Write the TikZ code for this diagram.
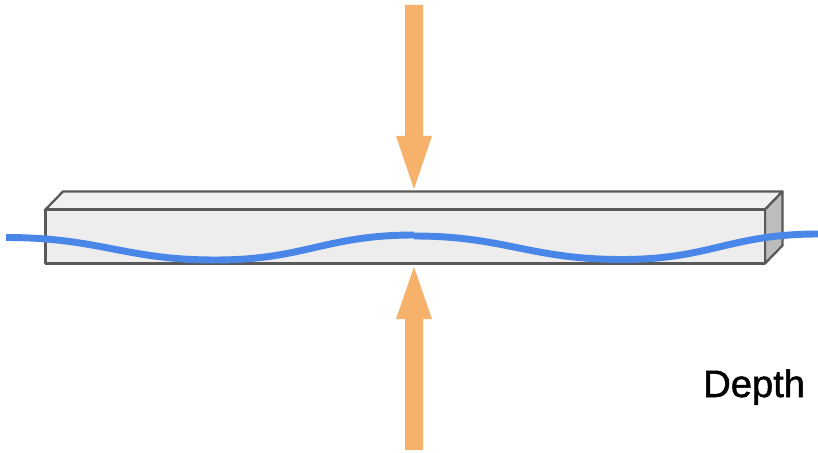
\documentclass[tikz,border=0pt]{standalone}
\usepackage{fontspec}
\setmainfont{Liberation Sans}
\newfontfamily\depthfont[FakeBold=1.3]{Liberation Sans}
\definecolor{edgegray}{HTML}{595959}
\definecolor{frontgray}{HTML}{EDEDED}
\definecolor{topgray}{HTML}{F1F1F1}
\definecolor{sidegray}{HTML}{BDBDBD}
\definecolor{arroworange}{HTML}{F6B26B}
\definecolor{waveblue}{HTML}{4A86E8}
\tikzset{
  face/.style={draw=edgegray,line width=1.7pt,line join=round},
  pressure/.style={fill=arroworange,draw=none},
  wave/.style={draw=waveblue,line width=5.2pt}
}
\begin{document}
\begin{tikzpicture}[x=0.75pt,y=-0.75pt]
\useasboundingbox (0,0) rectangle (818,453);
\fill[white] (0,0) rectangle (818,453);
% beam
\filldraw[face,fill=topgray] (45.5,209.5) -- (63,191.5) -- (782.5,191.5) -- (765,209.5) -- cycle;
\filldraw[face,fill=sidegray] (765,209.5) -- (782.5,191.5) -- (782.5,245.5) -- (765,263.5) -- cycle;
\filldraw[face,fill=frontgray] (45.5,209.5) rectangle (765,263.5);
% arrows
\fill[pressure] (405,5) -- (423,5) -- (423,136) -- (432,136) -- (414,189) -- (396,136) -- (405,136) -- cycle;
\fill[pressure] (405,450) -- (423,450) -- (423,319) -- (432,319) -- (414,267) -- (396,319) -- (405,319) -- cycle;
% wave
\draw[wave] (6,237.5) .. controls (100,237.5) and (125,260) .. (215,260)
  .. controls (305,260) and (325,235) .. (414,235);
\draw[wave] (414,236) .. controls (505,236) and (530,259.5) .. (622,259.5)
  .. controls (710,259.5) and (730,234) .. (818,234);
% label
\node[anchor=base west,inner sep=0pt,font=\depthfont\fontsize{28.6pt}{30pt}\selectfont,text=black] (depth) at (703,397) {Depth};
\end{tikzpicture}
\end{document}
